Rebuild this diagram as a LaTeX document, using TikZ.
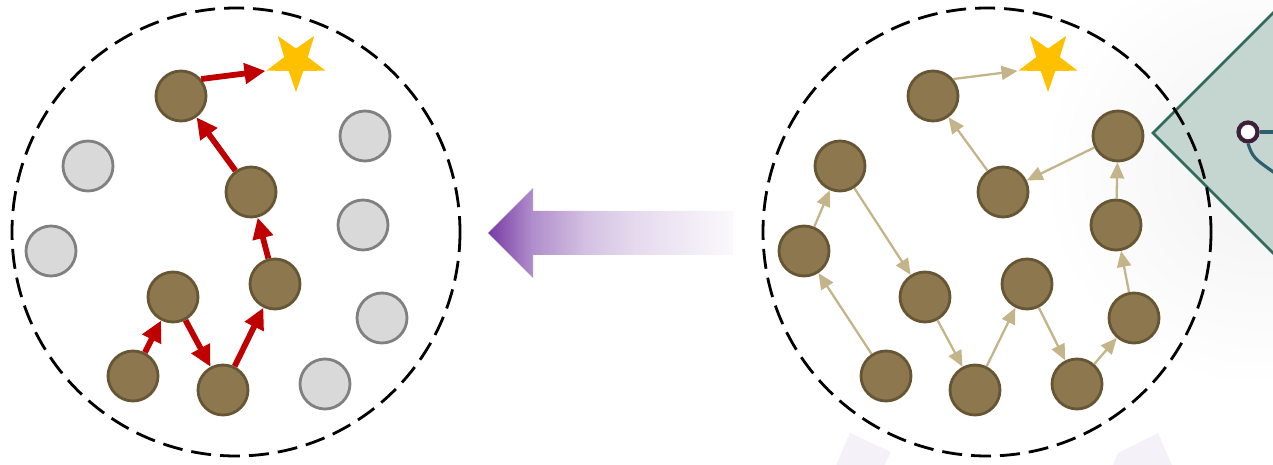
\documentclass[tikz,border=0pt]{standalone}
\usetikzlibrary{shapes.geometric,arrows.meta}
\definecolor{brownF}{RGB}{140,119,78}
\definecolor{brownD}{RGB}{103,86,52}
\definecolor{grayF}{RGB}{217,217,217}
\definecolor{grayD}{RGB}{128,128,128}
\definecolor{redA}{RGB}{192,0,0}
\definecolor{tanA}{RGB}{196,180,138}
\definecolor{starY}{RGB}{255,192,0}
\definecolor{purp}{RGB}{112,48,160}
\definecolor{diaF}{RGB}{197,214,208}
\definecolor{diaD}{RGB}{46,107,90}
\definecolor{tealL}{RGB}{47,95,110}
\definecolor{ringP}{RGB}{59,31,59}
\definecolor{lav}{RGB}{244,241,249}
\pgfdeclarehorizontalshading{purpfade}{100bp}{color(0bp)=(purp!95); color(25bp)=(purp!95); color(34bp)=(purp!55); color(45bp)=(purp!30); color(55bp)=(purp!18); color(75bp)=(purp!3); color(100bp)=(purp!3)}
\tikzset{
  bnode/.style={circle, fill=brownF, draw=brownD, line width=1.6pt, minimum size=1cm, inner sep=0pt},
  gnode/.style={circle, fill=grayF, draw=grayD, line width=1.6pt, minimum size=1cm, inner sep=0pt},
  redarr/.style={draw=redA, line width=3.3pt, -{Triangle[length=0.42cm,width=0.4cm]}},
  tanarr/.style={draw=tanA, line width=1.3pt, -{Triangle[length=0.32cm,width=0.28cm]}},
  goal/.style={star, star points=5, star point ratio=2.5, shape border rotate=180, fill=starY, minimum size=1.24cm, inner sep=0pt},
  dashcirc/.style={draw=black, line width=1.6pt, dash pattern=on 0.4cm off 0.18cm, fill=none},
}
\begin{document}
\begin{tikzpicture}[x=0.02cm, y=-0.02cm]
\useasboundingbox (0,0) rectangle (1273,465);
\clip (0,0) rectangle (1273,465);
% faint glow on the right
\shade[inner color=black!5, outer color=white] (1260,170) circle [radius=220];
% diamond panel
\filldraw[fill=diaF, draw=diaD, line width=1.5pt] (1153,133) -- (1300,-14) -- (1447,133) -- (1300,280) -- cycle;
\node[circle, draw=ringP, fill=white, line width=2.4pt, minimum size=0.38cm, inner sep=0pt] (h) at (1248,132) {};
\coordinate (hr) at (1290,132);
\coordinate (hc) at (1282,178);
\draw[tealL, line width=1.8pt] (h.east) -- (hr);
\draw[tealL, line width=1.8pt] (h.south) .. controls (1253,158) .. (hc);
\fill[white] (1248,132) circle [radius=5];
% faint lavender quads at the bottom
\fill[lav] (850,433) -- (891,452) -- (882,470) -- (834,470) -- cycle;
\fill[lav] (1158,433) -- (1174,470) -- (1111,470) -- (1118,453) -- cycle;
% big arrow
\shade[shading=purpfade] (488,233) -- (533,188) -- (533,211) -- (733,211) -- (733,255) -- (533,255) -- (533,278) -- cycle;

% ---------- left panel ----------
\node[gnode] (g1) at (88,166) {};
\node[gnode] (g2) at (365,136) {};
\node[gnode] (g3) at (51,251) {};
\node[gnode] (g4) at (363,225) {};
\node[gnode] (g5) at (382,318) {};
\node[gnode] (g6) at (325,384) {};
\node[bnode] (la) at (181,96) {};
\node[bnode] (lb) at (251,192) {};
\node[bnode] (lc) at (275,284) {};
\node[bnode] (ld) at (173,297) {};
\node[bnode] (le) at (133,376) {};
\node[bnode] (lf) at (223,390) {};
\node[goal] (ls) at (296,61) {};
\draw[redarr] (le) -- (ld);
\draw[redarr] (ld) -- (lf);
\draw[redarr] (lf) -- (lc);
\draw[redarr] (lc) -- (lb);
\draw[redarr] (lb) -- (la);
\draw[redarr] (la.40) -- (ls.198);
\draw[dashcirc] (236,232) circle [radius=224];

% ---------- right panel ----------
\node[bnode] (r1) at (933,96) {};
\node[bnode] (r2) at (840,166) {};
\node[bnode] (r3) at (804,251) {};
\node[bnode] (r4) at (925,297) {};
\node[bnode] (r5) at (886,376) {};
\node[bnode] (r6) at (975,390) {};
\node[bnode] (r7) at (1027,284) {};
\node[bnode] (r8) at (1077,384) {};
\node[bnode] (r9) at (1134,318) {};
\node[bnode] (r10) at (1116,225) {};
\node[bnode] (r11) at (1118,136) {};
\node[bnode] (r12) at (1003,192) {};
\node[goal] (rs) at (1048,61) {};
\draw[tanarr] (r5) -- (r3);
\draw[tanarr] (r3) -- (r2);
\draw[tanarr] (r2) -- (r4);
\draw[tanarr] (r4) -- (r6);
\draw[tanarr] (r6) -- (r7);
\draw[tanarr] (r7) -- (r8);
\draw[tanarr] (r8) -- (r9);
\draw[tanarr] (r9) -- (r10);
\draw[tanarr] (r10) -- (r11);
\draw[tanarr] (r11) -- (r12);
\draw[tanarr] (r12) -- (r1);
\draw[tanarr] (r1.40) -- (rs.198);
\draw[dashcirc] (987,232) circle [radius=224];
\end{tikzpicture}
\end{document}
